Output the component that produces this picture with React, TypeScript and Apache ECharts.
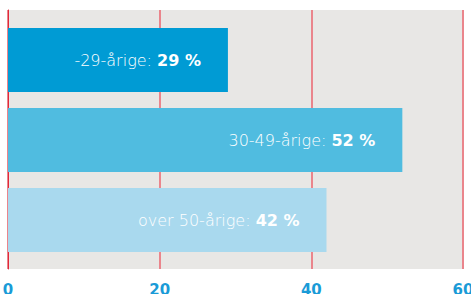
import React, { useEffect, useRef } from "react";
import * as echarts from "echarts";

const categories = ["-29-årige", "30-49-årige", "over 50-årige"];
const values = [29, 52, 42];
const barColors = ["#009bd4", "#50bce0", "#a9d9ee"];
const tickMin = 0;
const tickMax = 60;
const tickInterval = 20;

export default function App() {
  const ref = useRef<HTMLDivElement>(null);
  useEffect(() => {
    if (!ref.current) return;
    const chart = echarts.init(ref.current, null, { renderer: "svg" });
    const font = "DejaVu Sans";
    chart.setOption({
      animation: false,
      grid: [
        { left: 8, right: 8, top: 10, bottom: 25, show: true, backgroundColor: "#e8e7e5", borderWidth: 0, outerBoundsMode: "none", containLabel: false },
        { left: 8, right: 8, top: 20, bottom: 34, show: false, outerBoundsMode: "none", containLabel: false },
      ],
      xAxis: [
        {
          gridIndex: 0,
          type: "value",
          min: tickMin,
          max: tickMax,
          interval: tickInterval,
          axisLine: { show: false },
          axisTick: { show: false },
          splitLine: { show: true, lineStyle: { color: "#ea858c", width: 2 } },
          axisLabel: {
            color: "#1a9bd7",
            fontWeight: "bold",
            fontSize: 15,
            fontFamily: font,
            margin: 13,
            showMaxLabel: true,
          },
        },
        { gridIndex: 1, type: "value", min: tickMin, max: tickMax, show: false },
      ],
      yAxis: [
        {
          gridIndex: 0,
          type: "value",
          axisLine: { show: true, onZero: false, lineStyle: { color: "#e2283a", width: 1 } },
          axisTick: { show: false },
          axisLabel: { show: false },
          splitLine: { show: false },
        },
        { gridIndex: 1, type: "category", inverse: true, data: categories, show: false },
      ],
      series: [
        {
          type: "bar",
          xAxisIndex: 1,
          yAxisIndex: 1,
          barWidth: 64,
          data: values.map((v, i) => ({ value: v, itemStyle: { color: barColors[i] } })),
          label: {
            show: true,
            position: "insideRight",
            distance: 27,
            formatter: (p: any) => `{a|${categories[p.dataIndex]}: }{b|${p.value} %}`,
            rich: {
              a: { color: "#ffffff", fontSize: 16, fontFamily: font, fontWeight: 200 },
              b: { color: "#ffffff", fontSize: 16, fontFamily: font, fontWeight: "bold" },
            },
          },
        },
      ],
    });
    return () => chart.dispose();
  }, []);
  return <div ref={ref} style={{ width: 471, height: 294, position: "absolute", left: 0, top: 0 }} />;
}
